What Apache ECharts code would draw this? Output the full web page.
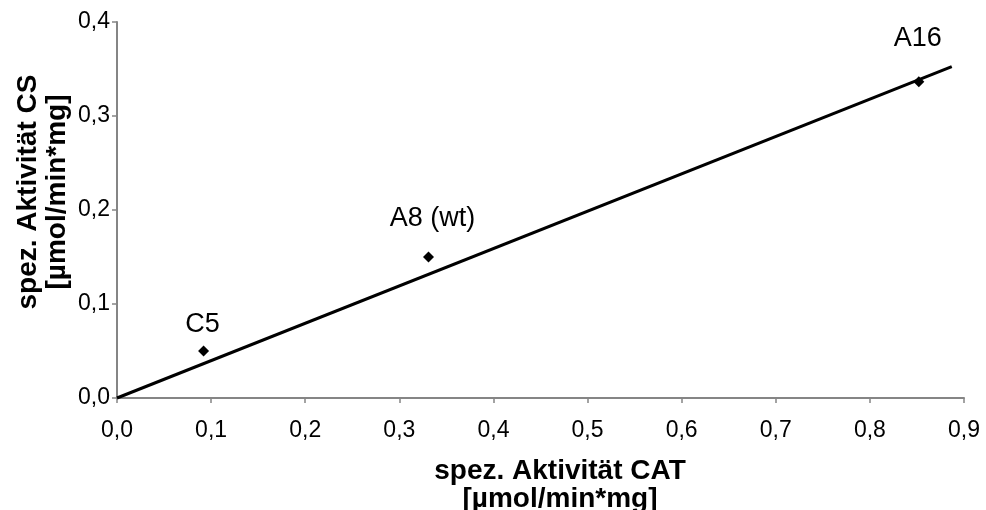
<!DOCTYPE html>
<html>
<head>
<meta charset="utf-8">
<title>spez. Aktivität CS vs. CAT</title>
<script src="https://cdn.jsdelivr.net/npm/echarts@6/dist/echarts.min.js"></script>
<style>
  html, body { margin: 0; padding: 0; background: #fff; }
  #chart { width: 986px; height: 510px; }
</style>
</head>
<body>
<div id="chart"></div>
<script>
// Strains and their specific activities (µmol/min*mg)
const strainNames = ['C5', 'A8 (wt)', 'A16'];
const catActivity = [0.092, 0.331, 0.852];
const csActivity  = [0.050, 0.150, 0.3365];

// Linear trend line through the origin (start and end point)
const trendCat = [0, 0.887];
const trendCs  = [0, 0.3525];

// Axis tick values
const xTicks = [0, 0.1, 0.2, 0.3, 0.4, 0.5, 0.6, 0.7, 0.8, 0.9];
const yTicks = [0, 0.1, 0.2, 0.3, 0.4];

// Per-label nudges (pixels) so the names sit clear of the trend line
const labelNudge = [[-1, 0], [4, -12], [-1, -17]];

const FONT = '"Liberation Sans", Arial, Helvetica, sans-serif';
const AXIS_GREY = '#858585';
const fmt = v => v.toFixed(1).replace('.', ',');

const chart = echarts.init(document.getElementById('chart'), null, { renderer: 'canvas' });

const axisCommon = {
  type: 'value',
  interval: 0.1,
  axisLine: { show: true, lineStyle: { color: AXIS_GREY, width: 2 } },
  axisTick: { show: true, inside: false, length: 5, lineStyle: { color: AXIS_GREY, width: 1.5 } },
  splitLine: { show: false },
  axisLabel: { color: '#000', fontFamily: FONT, fontSize: 23, formatter: fmt }
};

chart.setOption({
  animation: false,
  backgroundColor: '#fff',
  grid: { left: 117, right: 22, top: 22, bottom: 112, containLabel: false },
  xAxis: Object.assign({}, axisCommon, {
    min: xTicks[0], max: xTicks[xTicks.length - 1],
    axisLabel: Object.assign({}, axisCommon.axisLabel, { margin: 21 })
  }),
  yAxis: Object.assign({}, axisCommon, {
    min: yTicks[0], max: yTicks[yTicks.length - 1],
    axisLabel: Object.assign({}, axisCommon.axisLabel, { margin: 7 })
  }),
  graphic: [
    {
      type: 'text', x: 560, y: 485,
      style: {
        text: 'spez. Aktivität CAT\n[µmol/min*mg]',
        font: 'bold 28px ' + FONT, lineHeight: 28,
        fill: '#000', align: 'center', verticalAlign: 'middle'
      }
    },
    {
      type: 'text', x: 43, y: 192, rotation: Math.PI / 2,
      style: {
        text: 'spez. Aktivität CS\n[µmol/min*mg]',
        font: 'bold 28px ' + FONT, lineHeight: 29,
        fill: '#000', align: 'center', verticalAlign: 'middle'
      }
    }
  ],
  series: [
    {
      type: 'scatter',
      symbol: 'diamond',
      symbolSize: 11,
      itemStyle: { color: '#000', opacity: 1 },
      z: 2,
      data: strainNames.map((n, i) => ({
        name: n,
        value: [catActivity[i], csActivity[i]],
        label: { offset: labelNudge[i] }
      })),
      label: {
        show: true, position: 'top', distance: 7,
        formatter: p => p.name,
        color: '#000', opacity: 1, fontFamily: FONT, fontSize: 27
      }
    },
    {
      type: 'line',
      data: trendCat.map((x, i) => [x, trendCs[i]]),
      symbol: 'none',
      clip: false,
      lineStyle: { color: '#000', width: 3 },
      z: 3
    }
  ]
});
</script>
</body>
</html>
